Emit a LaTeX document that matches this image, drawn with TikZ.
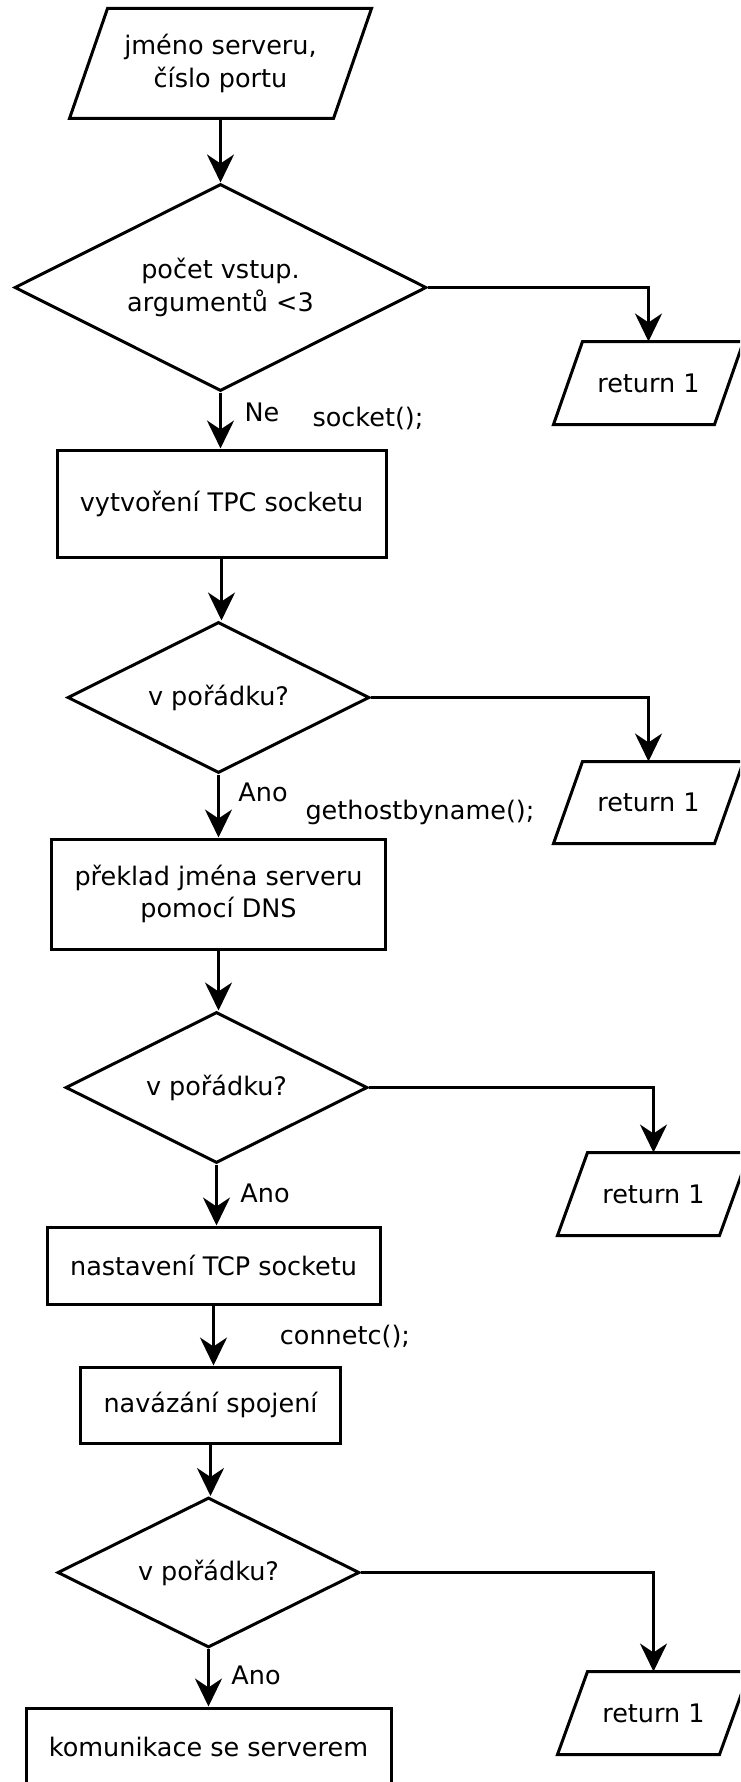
\documentclass[tikz,border=0pt]{standalone}
\usepackage{fontspec}
\setmainfont{DejaVu Sans}
\usetikzlibrary{shapes.geometric,arrows.meta,calc}

% slanted input/output frame drawn around an invisible text node
\newcommand\ioframe[2]{%
  \draw ($(#1.south west)+(-#2,0)$) -- ($(#1.north west)+(#2,0)$) --
        ($(#1.north east)+(#2,0)$) -- ($(#1.south east)+(-#2,0)$) -- cycle;}

\begin{document}
\begin{tikzpicture}[x=1pt,y=-1pt,
  line width=3pt,
  every node/.style={font=\fontsize{25.5}{32.5}\selectfont},
  procbox/.style={draw, rectangle, inner sep=0pt, align=center},
  decision/.style={draw, diamond, aspect=2, inner sep=0pt, align=center},
  iobox/.style={rectangle, inner sep=0pt, align=center},
  flow/.style={-{Stealth[length=28pt,width=27pt,inset=9pt]}},
  lbl/.style={inner sep=0pt}
]
\useasboundingbox (0,0) rectangle (740,1782);
\fill[white] (0,0) rectangle (740,1782);
\clip (0,0) rectangle (740,1782);

% input
\node[iobox, minimum width=261pt, minimum height=107pt] (in) at (220.5,63.5) {jméno serveru,\\číslo portu};
\ioframe{in}{19}

% argument check
\node[decision, minimum width=412pt, minimum height=207pt] (d1) at (220.5,287.5) {počet vstup.\\argumentů <3};
\node[iobox, minimum width=158pt, minimum height=80pt] (ret1) at (648.5,383) {return 1};
\ioframe{ret1}{14.5}

% socket creation
\node[procbox, minimum width=329pt, minimum height=107pt] (r1) at (221.5,503.5) {vytvoření TPC socketu};
\node[decision, minimum width=302pt, minimum height=151pt] (d2) at (218.5,697.5) {v pořádku?};
\node[iobox, minimum width=158pt, minimum height=79pt] (ret2) at (648.5,802.5) {return 1};
\ioframe{ret2}{14.5}

% name resolution
\node[procbox, minimum width=334pt, minimum height=110pt] (r2) at (218.5,894) {překlad jména serveru\\pomocí DNS};
\node[decision, minimum width=302pt, minimum height=151pt] (d3) at (216.5,1087.5) {v pořádku?};
\node[iobox, minimum width=159pt, minimum height=80pt] (ret3) at (653.5,1194) {return 1};
\ioframe{ret3}{15}

% connection
\node[procbox, minimum width=333pt, minimum height=77pt] (r3) at (213.5,1265.5) {nastavení TCP socketu};
\node[procbox, minimum width=260pt, minimum height=76pt] (r4) at (210.5,1405) {navázání spojení};
\node[decision, minimum width=302pt, minimum height=150pt] (d4) at (208.5,1572.5) {v pořádku?};
\node[iobox, minimum width=159pt, minimum height=80pt] (ret4) at (653.5,1713) {return 1};
\ioframe{ret4}{15}
\node[procbox, minimum width=365pt, minimum height=78pt] (r5) at (208.5,1747) {komunikace se serverem};

% connectors
\draw[flow] (in.south) -- (in.south |- d1.north);
\draw[flow] (d1.east) -| (ret1.north);
\draw[flow] (d1.south) -- (d1.south |- r1.north);
\draw[flow] (r1.south) -- (r1.south |- d2.north);
\draw[flow] (d2.east) -| (ret2.north);
\draw[flow] (d2.south) -- (d2.south |- r2.north);
\draw[flow] (r2.south) -- (r2.south |- d3.north);
\draw[flow] (d3.east) -| (ret3.north);
\draw[flow] (d3.south) -- (d3.south |- r3.north);
\draw[flow] (r3.south) -- (r3.south |- r4.north);
\draw[flow] (r4.south) -- (r4.south |- d4.north);
\draw[flow] (d4.east) -| (ret4.north);
\draw[flow] (d4.south) -- (d4.south |- r5.north);

% labels
\node[lbl] (ne)   at (262,412)  {Ne};
\node[lbl] (sock) at (368,418)  {socket();};
\node[lbl] (ano1) at (263,792)  {Ano};
\node[lbl] (ghbn) at (420,812)  {gethostbyname();};
\node[lbl] (ano2) at (265,1193) {Ano};
\node[lbl] (conn) at (345,1336) {connetc();};
\node[lbl] (ano3) at (256,1675) {Ano};
\end{tikzpicture}
\end{document}
